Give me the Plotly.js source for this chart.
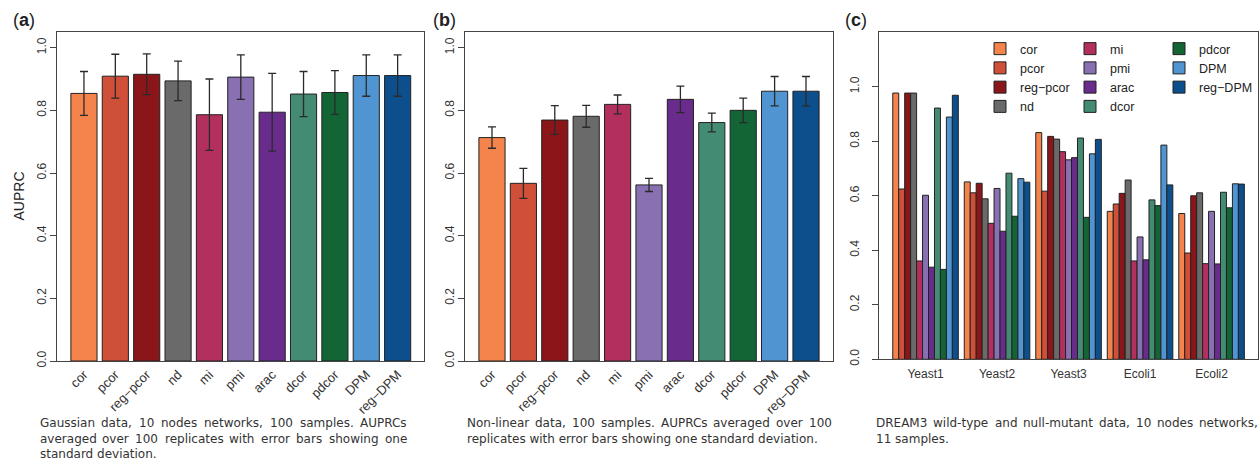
<!DOCTYPE html>
<html>
<head>
<meta charset="utf-8">
<script src="https://cdn.plot.ly/plotly-3.0.1.min.js"></script>
<style>
  html, body { margin: 0; padding: 0; background: #fff; }
  #chart { width: 1259px; height: 461px; }
</style>
</head>
<body>
<div id="chart"></div>
<script>
// ---------- data ----------
const methods = ['cor', 'pcor', 'reg\u2212pcor', 'nd', 'mi', 'pmi', 'arac', 'dcor', 'pdcor', 'DPM', 'reg\u2212DPM'];
const methodColors = ['#F5844C', '#D04F38', '#8B161A', '#6A6A6A', '#B22F5E', '#8870B3',
                      '#6A2C8C', '#438B73', '#136535', '#5095D2', '#0C4F8C'];

// (a) Gaussian data
const gaussMean = [0.854, 0.909, 0.915, 0.894, 0.786, 0.906, 0.794, 0.852, 0.857, 0.911, 0.911];
const gaussSd   = [0.070, 0.070, 0.065, 0.063, 0.114, 0.071, 0.124, 0.072, 0.070, 0.066, 0.066];

// (b) Non-linear data
const nonlinMean = [0.713, 0.567, 0.769, 0.781, 0.819, 0.562, 0.835, 0.761, 0.800, 0.861, 0.861];
const nonlinSd   = [0.034, 0.048, 0.046, 0.035, 0.030, 0.021, 0.042, 0.030, 0.039, 0.047, 0.047];

// (c) DREAM3
const datasets = ['Yeast1', 'Yeast2', 'Yeast3', 'Ecoli1', 'Ecoli2'];
const dreamCor     = [0.977, 0.651, 0.832, 0.543, 0.535];
const dreamPcor    = [0.625, 0.611, 0.617, 0.570, 0.390];
const dreamRegPcor = [0.977, 0.646, 0.818, 0.609, 0.600];
const dreamNd      = [0.977, 0.589, 0.808, 0.658, 0.611];
const dreamMi      = [0.361, 0.499, 0.762, 0.361, 0.351];
const dreamPmi     = [0.602, 0.627, 0.732, 0.449, 0.543];
const dreamArac    = [0.338, 0.470, 0.740, 0.365, 0.350];
const dreamDcor    = [0.922, 0.683, 0.812, 0.585, 0.613];
const dreamPdcor   = [0.330, 0.525, 0.521, 0.564, 0.556];
const dreamDPM     = [0.889, 0.663, 0.754, 0.786, 0.644];
const dreamRegDPM  = [0.969, 0.650, 0.807, 0.640, 0.643];

const yTicksAB = [0, 0.2, 0.4, 0.6, 0.8, 1.0];
const yTicksC  = [0, 0.2, 0.4, 0.6, 0.8, 1.0];

const captionA = ['Gaussian data, 10 nodes networks, 100 samples. AUPRCs',
                  'averaged over 100 replicates with error bars showing one',
                  'standard deviation.'];
const captionB = ['Non-linear data, 100 samples. AUPRCs averaged over 100',
                  'replicates with error bars showing one standard deviation.'];
const captionC = ['DREAM3 wild-type and null-mutant data, 10 nodes networks,',
                  '11 samples.'];

// ---------- layout helpers ----------
const W = 1259, H = 461;
const px = v => v / W;
const py = v => (H - v) / H;
const sans = 'Liberation Sans, Arial, sans-serif';
const capFont = { family: 'DejaVu Sans', size: 12, color: '#333' };
const lineCol = '#444';

const dreamSeries = [dreamCor, dreamPcor, dreamRegPcor, dreamNd, dreamMi, dreamPmi,
                     dreamArac, dreamDcor, dreamPdcor, dreamDPM, dreamRegDPM];
const legendOf = i => (i < 4 ? 'legend' : (i < 8 ? 'legend2' : 'legend3'));

const traces = [];
const errStyle = { type: 'data', visible: true, color: '#2a2a2a', thickness: 1.3, width: 4 };

traces.push({
  type: 'bar', x: methods, y: gaussMean, xaxis: 'x', yaxis: 'y', width: 0.8333,
  marker: { color: methodColors, line: { color: '#222', width: 1 } },
  error_y: Object.assign({ array: gaussSd }, errStyle),
  showlegend: false, hoverinfo: 'x+y'
});
traces.push({
  type: 'bar', x: methods, y: nonlinMean, xaxis: 'x2', yaxis: 'y2', width: 0.8333,
  marker: { color: methodColors, line: { color: '#222', width: 1 } },
  error_y: Object.assign({ array: nonlinSd }, errStyle),
  showlegend: false, hoverinfo: 'x+y'
});
dreamSeries.forEach((vals, i) => {
  traces.push({
    type: 'bar', name: methods[i], x: datasets, y: vals, xaxis: 'x3', yaxis: 'y3',
    marker: { color: methodColors[i], line: { color: '#222', width: 1 } },
    legend: legendOf(i)
  });
});

function xAxisBase(d0, d1, anchor) {
  return {
    domain: [px(d0), px(d1)], anchor: anchor, type: 'category',
    showline: true, mirror: true, linecolor: lineCol, linewidth: 1,
    ticks: '', showgrid: false, zeroline: false, fixedrange: true,
    tickfont: { family: sans, size: 12, color: '#333' }
  };
}
function yAxisBase(t0, t1, anchor, range, tickvals) {
  return {
    domain: [py(t1), py(t0)], anchor: anchor, range: range,
    tickvals: tickvals, tickformat: '.1f',
    showline: true, mirror: true, linecolor: lineCol, linewidth: 1,
    ticks: 'outside', ticklen: 6, tickcolor: lineCol, tickwidth: 1,
    tickangle: -90, showgrid: false, zeroline: false, fixedrange: true,
    tickfont: { family: sans, size: 12, color: '#333' }
  };
}

const xa = xAxisBase(57.3, 424.3, 'y');
xa.range = [-0.85, 10.85]; xa.tickangle = -45; xa.tickfont.size = 13;
const xb = xAxisBase(465.3, 832.7, 'y2');
xb.range = [-0.85, 10.85]; xb.tickangle = -45; xb.tickfont.size = 13;
const xc = xAxisBase(878.7, 1258.4, 'y3');
xc.range = [-0.655, 4.655]; xc.tickangle = 0; xc.ticklabelstandoff = 3;

const ya = yAxisBase(32, 361, 'x', [0, 1.05], yTicksAB);
const yb = yAxisBase(32, 361, 'x2', [0, 1.05], yTicksAB);
const yc = yAxisBase(32.3, 359.3, 'x3', [0, 1.2], yTicksC);
yc.ticklabelstandoff = 8;

// ---------- annotations ----------
const annotations = [];
function addText(text, x, y, opts) {
  annotations.push(Object.assign({
    xref: 'paper', yref: 'paper', x: px(x), y: py(y), text: text, showarrow: false,
    xanchor: 'center', yanchor: 'middle', borderpad: 0, borderwidth: 0
  }, opts || {}));
}
addText('(<b>a</b>)', 24, 20, { font: { family: sans, size: 18, color: '#222' } });
addText('(<b>b</b>)', 444.5, 20, { font: { family: sans, size: 18, color: '#222' } });
addText('(<b>c</b>)', 856, 20, { font: { family: sans, size: 18, color: '#222' } });
addText('AUPRC', 18, 196.5, { textangle: -90, font: { family: sans, size: 14, color: '#222' } });

const measCtx = document.createElement('canvas').getContext('2d');
measCtx.font = '12px "DejaVu Sans"';
function addCaption(lines, x0, x1, yFirst, lineStep) {
  lines.forEach((line, li) => {
    const yLine = yFirst + li * lineStep;
    const last = li === lines.length - 1;
    if (last) {
      addText(line, x0, yLine, { xanchor: 'left', font: capFont });
      return;
    }
    const words = line.split(' ');
    const widths = words.map(w => measCtx.measureText(w).width);
    const total = widths.reduce((a, b) => a + b, 0);
    const gap = (x1 - x0 - total) / (words.length - 1);
    let x = x0;
    words.forEach((w, i) => {
      addText(w, x, yLine, { xanchor: 'left', font: capFont });
      x += widths[i] + gap;
    });
  });
}
addCaption(captionA, 39.5, 407, 422.7, 15.8);
addCaption(captionB, 467, 832, 422.7, 15.8);
addCaption(captionC, 876, 1258, 422.7, 15.8);

const legendBase = {
  yanchor: 'top', xanchor: 'left', y: py(34), bgcolor: 'rgba(0,0,0,0)', borderwidth: 0,
  font: { family: sans, size: 12.5, color: '#222' }, traceorder: 'normal',
  itemclick: false, itemdoubleclick: false, tracegroupgap: 0
};

const layout = {
  width: W, height: H, autosize: false,
  margin: { l: 0, r: 0, t: 0, b: 0, pad: 0 },
  paper_bgcolor: '#fff', plot_bgcolor: '#fff',
  barmode: 'group', bargap: 1 / 12, bargroupgap: 0,
  xaxis: xa, yaxis: ya, xaxis2: xb, yaxis2: yb, xaxis3: xc, yaxis3: yc,
  legend: Object.assign({}, legendBase, { x: px(980) }),
  legend2: Object.assign({}, legendBase, { x: px(1070) }),
  legend3: Object.assign({}, legendBase, { x: px(1159) }),
  annotations: annotations,
  font: { family: sans }
};

Plotly.newPlot('chart', traces, layout, { displayModeBar: false, staticPlot: true });
</script>
</body>
</html>
